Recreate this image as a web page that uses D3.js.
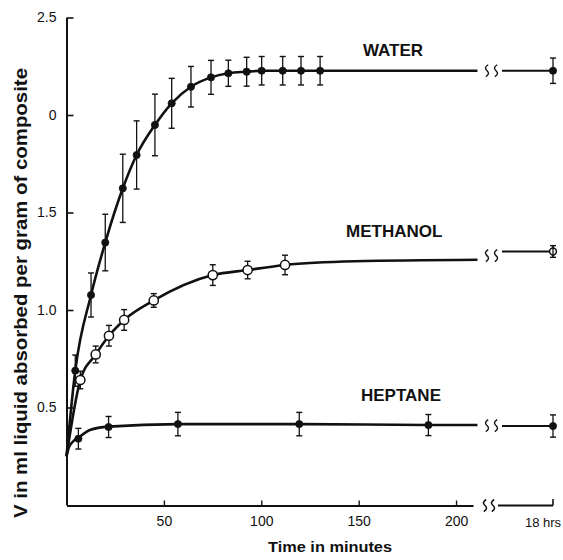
<!DOCTYPE html>
<html><head><meta charset="utf-8">
<script src="https://cdn.jsdelivr.net/npm/d3@7"></script>
<style>
body{margin:0;background:#fff}
svg{display:block}
text{font-family:"Liberation Sans",Arial,Helvetica,sans-serif;fill:#111}
</style>
</head><body>
<svg id="c" width="563" height="560"></svg>
<script>
// ---------- data ----------
const waterT   = [4.5, 12.6, 19.9, 28.9, 36.0, 45.4, 54.0, 63.9, 74.2, 83.1, 92.5, 100.2, 111.0, 120.4, 130.2];
const waterV   = [0.689, 1.077, 1.346, 1.624, 1.795, 1.949, 2.060, 2.145, 2.193, 2.214, 2.222, 2.227, 2.227, 2.227, 2.227];
const waterErr = [0.080, 0.113, 0.145, 0.175, 0.175, 0.158, 0.128, 0.104, 0.087, 0.067, 0.074, 0.073, 0.073, 0.073, 0.073];
const waterCurveT = [0, 4.5, 12.6, 19.9, 28.9, 36.0, 45.4, 54.0, 63.9, 74.2, 83.1, 92.5, 100.2, 130.2, 211];
const waterCurveV = [0.25, 0.689, 1.077, 1.346, 1.624, 1.795, 1.949, 2.060, 2.145, 2.193, 2.214, 2.222, 2.227, 2.227, 2.227];
const water18h = 2.227, water18hErr = 0.065;

const methT   = [7.1, 15.0, 21.8, 29.6, 44.8, 75.1, 93.0, 112.2];
const methV   = [0.641, 0.772, 0.868, 0.949, 1.049, 1.179, 1.205, 1.231];
const methErr = [0.045, 0.043, 0.053, 0.053, 0.035, 0.053, 0.045, 0.050];
const methCurveT = [0, 7.1, 15.0, 21.8, 29.6, 44.8, 75.1, 93.0, 112.2, 148, 211];
const methCurveV = [0.25, 0.641, 0.772, 0.868, 0.949, 1.049, 1.179, 1.205, 1.231, 1.250, 1.258];
const meth18h = 1.300, meth18hErr = 0.030;

const hepT   = [6.1, 21.6, 57.2, 119.5, 185.8];
const hepV   = [0.340, 0.400, 0.415, 0.415, 0.410];
const hepErr = [0.053, 0.054, 0.060, 0.060, 0.054];
const hepCurveT = [0, 1.2, 3, 6.1, 12, 21.6, 57.2, 119.5, 185.8, 211];
const hepCurveV = [0.25, 0.295, 0.322, 0.345, 0.385, 0.402, 0.415, 0.415, 0.410, 0.410];
const hep18h = 0.405, hep18hErr = 0.057;

const xTickValues = [50, 100, 150, 200];
const yTickValues = [0.5, 1.0, 1.5, 2.0, 2.5];
const yTickLabels = ["0.5", "1.0", "1.5", "0", "2.5"];
const breakLabel = "18 hrs";
const seriesNames = ["WATER", "METHANOL", "HEPTANE"];
const xTitle = "Time in minutes";
const yTitle = "V in ml liquid absorbed per gram of composite";

// ---------- scales ----------
const svg = d3.select("#c");
const ink = "#111";
const x = d3.scaleLinear().domain([0, 208.7]).range([66.5, 473]);
const y = d3.scaleLinear().domain([0, 2.5]).range([505, 17.5]);
const xr = d3.scalePoint().domain(["start", breakLabel]).range([500, 553]);

// ---------- axes ----------
const yAxis = d3.axisLeft(y).tickValues(yTickValues)
  .tickFormat((d, i) => yTickLabels[i]).tickSizeInner(-7).tickSizeOuter(0).tickPadding(10);
const gy = svg.append("g").attr("transform", "translate(66.5,0)").call(yAxis);
gy.select(".domain").attr("stroke", ink).attr("stroke-width", 2);
gy.selectAll(".tick line").attr("stroke", ink).attr("stroke-width", 1.6);
gy.selectAll(".tick text").attr("font-size", 14).attr("fill", ink)
  .style("font-family", '"Liberation Sans",Arial,sans-serif');

const xAxis = d3.axisBottom(x).tickValues(xTickValues).tickSizeInner(-5).tickSizeOuter(0).tickPadding(11);
const gx = svg.append("g").attr("transform", "translate(0,505.5)").call(xAxis);
gx.select(".domain").attr("stroke", ink).attr("stroke-width", 2);
gx.selectAll(".tick line").attr("stroke", ink).attr("stroke-width", 1.4);
gx.selectAll(".tick text").attr("font-size", 14).attr("fill", ink)
  .style("font-family", '"Liberation Sans",Arial,sans-serif');

function squiggle(cx, cy) {
  return `M${cx + 1.2},${cy - 6} Q${cx - 3.5},${cy - 3} ${cx},${cy} Q${cx + 3.5},${cy + 3} ${cx - 1.2},${cy + 6}`;
}
// x-axis break
svg.append("path").attr("d", squiggle(485, 505.5)).attr("fill", "none").attr("stroke", ink).attr("stroke-width", 1.5);
svg.append("path").attr("d", squiggle(493, 505.5)).attr("fill", "none").attr("stroke", ink).attr("stroke-width", 1.5);
svg.append("line").attr("x1", xr("start") - 2).attr("x2", xr(breakLabel))
  .attr("y1", 505.5).attr("y2", 505.5).attr("stroke", ink).attr("stroke-width", 2);
svg.append("line").attr("x1", xr(breakLabel)).attr("x2", xr(breakLabel))
  .attr("y1", 505.5).attr("y2", 499).attr("stroke", ink).attr("stroke-width", 1.6);
svg.append("text").attr("x", xr(breakLabel) - 10).attr("y", 527).attr("text-anchor", "middle")
  .attr("font-size", 13).text(breakLabel);

// titles
svg.append("text").attr("x", 330).attr("y", 552).attr("text-anchor", "middle")
  .attr("font-size", 15).attr("font-weight", "bold")
  .attr("textLength", 124).attr("lengthAdjust", "spacingAndGlyphs").text(xTitle);
svg.append("text").attr("transform", "translate(27,293) rotate(-90)").attr("text-anchor", "middle")
  .attr("font-size", 19).attr("font-weight", "bold")
  .attr("textLength", 450).attr("lengthAdjust", "spacingAndGlyphs").text(yTitle);

// ---------- series ----------
const line = d3.line().x(d => x(d[0])).y(d => y(d[1])).curve(d3.curveMonotoneX);

function drawSeries(cfg) {
  const g = svg.append("g");
  const curve = d3.zip(cfg.curveT, cfg.curveV);
  g.append("path").attr("d", line(curve)).attr("fill", "none")
    .attr("stroke", ink).attr("stroke-width", 2.6).attr("stroke-linejoin", "round");
  // break squiggles
  const endV = cfg.curveV[cfg.curveV.length - 1];
  const sy = (y(endV) + y(cfg.v18)) / 2;
  g.append("path").attr("d", squiggle(487, sy)).attr("fill", "none").attr("stroke", ink).attr("stroke-width", 1.4);
  g.append("path").attr("d", squiggle(496, sy)).attr("fill", "none").attr("stroke", ink).attr("stroke-width", 1.4);
  g.append("line").attr("x1", xr("start") + 2).attr("x2", xr(breakLabel))
    .attr("y1", y(cfg.v18)).attr("y2", y(cfg.v18)).attr("stroke", ink).attr("stroke-width", 2);

  const pts = cfg.t.map((t, i) => ({ px: x(t), v: cfg.v[i], e: cfg.err[i] }));
  pts.push({ px: xr(breakLabel), v: cfg.v18, e: cfg.e18, last: true });
  const eb = g.selectAll(".eb").data(pts).enter().append("g");
  eb.append("line").attr("x1", d => d.px).attr("x2", d => d.px)
    .attr("y1", d => y(d.v - d.e)).attr("y2", d => y(d.v + d.e))
    .attr("stroke", ink).attr("stroke-width", 1.3);
  eb.append("line").attr("x1", d => d.px - 3).attr("x2", d => d.px + 3)
    .attr("y1", d => y(d.v + d.e)).attr("y2", d => y(d.v + d.e)).attr("stroke", ink).attr("stroke-width", 1.4);
  eb.append("line").attr("x1", d => d.px - 3).attr("x2", d => d.px + 3)
    .attr("y1", d => y(d.v - d.e)).attr("y2", d => y(d.v - d.e)).attr("stroke", ink).attr("stroke-width", 1.4);

  g.selectAll(".pt").data(pts).enter().append("circle")
    .attr("cx", d => d.px).attr("cy", d => y(d.v))
    .attr("r", d => cfg.open ? (d.last ? 3.4 : 4.6) : 3.6)
    .attr("fill", cfg.open ? "#fff" : ink)
    .attr("stroke", ink).attr("stroke-width", cfg.open ? 1.5 : 0.8);
  if (cfg.open) {
    const l = pts[pts.length - 1];
    g.append("line").attr("x1", l.px).attr("x2", l.px)
      .attr("y1", y(l.v - l.e)).attr("y2", y(l.v + l.e)).attr("stroke", ink).attr("stroke-width", 1.3);
  }
  g.append("text").attr("x", cfg.lx).attr("y", cfg.ly).attr("font-size", 17)
    .attr("font-weight", "bold").text(cfg.name);
}

drawSeries({ name: seriesNames[0], t: waterT, v: waterV, err: waterErr, curveT: waterCurveT, curveV: waterCurveV,
  v18: water18h, e18: water18hErr, open: false, lx: 363, ly: 55.5 });
drawSeries({ name: seriesNames[1], t: methT, v: methV, err: methErr, curveT: methCurveT, curveV: methCurveV,
  v18: meth18h, e18: meth18hErr, open: true, lx: 346, ly: 236.5 });
drawSeries({ name: seriesNames[2], t: hepT, v: hepV, err: hepErr, curveT: hepCurveT, curveV: hepCurveV,
  v18: hep18h, e18: hep18hErr, open: false, lx: 361, ly: 401 });
</script>
</body></html>
